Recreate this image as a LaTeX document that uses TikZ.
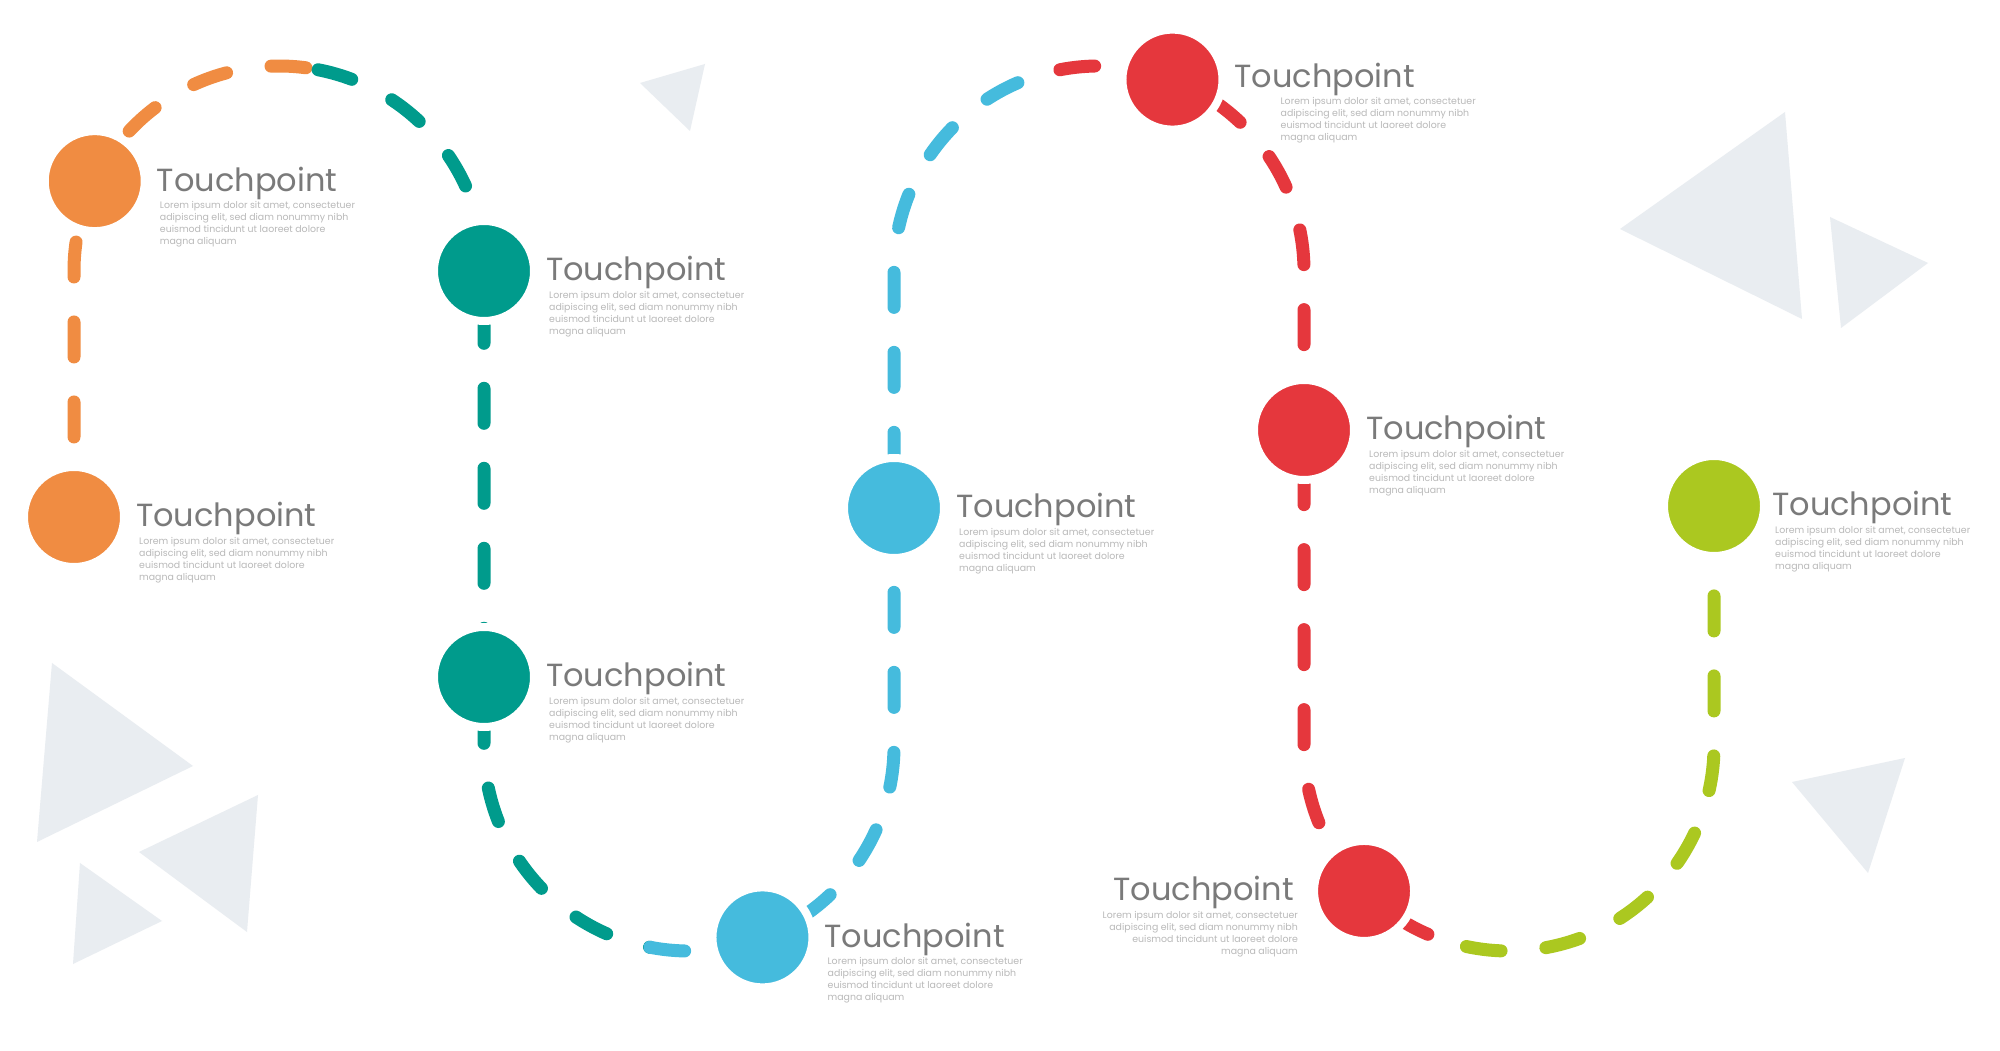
\documentclass[tikz,border=0pt]{standalone}
\usepackage{fontspec}
\setmainfont{Poppins}
\definecolor{tpOrange}{RGB}{240,140,66}
\definecolor{tpTeal}{RGB}{0,155,140}
\definecolor{tpBlue}{RGB}{69,187,221}
\definecolor{tpRed}{RGB}{229,55,61}
\definecolor{tpGreen}{RGB}{171,200,32}
\definecolor{triGray}{RGB}{233,237,241}
\definecolor{titleGray}{RGB}{122,122,122}
\definecolor{loremGray}{RGB}{185,185,185}
\usetikzlibrary{positioning,backgrounds}
\newcommand{\loremtxt}{Lorem ipsum dolor sit amet, consectetuer\\adipiscing elit, sed diam nonummy nibh\\euismod tincidunt ut laoreet dolore\\magna aliquam}

\begin{document}
\begin{tikzpicture}[x=1pt, y=1pt,
    tp/.style={circle, inner sep=0pt, minimum size=100pt, draw=white, line width=8pt},
    trail/.style={line width=13pt, line cap=round, dash pattern=on 35pt off 45pt},
    ttl/.style={inner sep=0pt, text=titleGray, font=\fontsize{32}{38}\selectfont},
    lorem/.style={inner sep=0pt, text=loremGray, align=left, font=\fontsize{9.4}{12}\selectfont},
    tri/.style={fill=triGray}]

\useasboundingbox (0,0) rectangle (2000,1050);

% touchpoints
\node[tp, fill=tpOrange] (c1) at (74,533) {};
\node[tp, fill=tpOrange] (c2) at ([shift={(279,779)}]154:205) {};
\node[tp, fill=tpTeal] (c3) at (484,779) {};
\node[tp, fill=tpTeal] (c4) at (484,373) {};
\node[tp, fill=tpBlue] (c5) at ([shift={(689,304)}]291:205) {};
\node[tp, fill=tpBlue] (c6) at (894,542) {};
\node[tp, fill=tpRed] (c7) at ([shift={(1099,779)}]69:205) {};
\node[tp, fill=tpRed] (c8) at (1304,620) {};
\node[tp, fill=tpRed] (c9) at ([shift={(1509,304)}]225:205) {};
\node[tp, fill=tpGreen] (c10) at (1714,544) {};

% titles
\node[ttl, base right=8pt of c1, yshift=-10pt] (t1) {Touchpoint};
\node[ttl, base right=8pt of c2, yshift=-10pt] (t2) {Touchpoint};
\node[ttl, base right=8pt of c3, yshift=-10pt] (t3) {Touchpoint};
\node[ttl, base right=8pt of c4, yshift=-10pt] (t4) {Touchpoint};
\node[ttl, base right=8pt of c5, yshift=-10pt] (t5) {Touchpoint};
\node[ttl, base right=8pt of c6, yshift=-10pt] (t6) {Touchpoint};
\node[ttl, base right=8pt of c7, yshift=-8pt] (t7) {Touchpoint};
\node[ttl, base right=8pt of c8, yshift=-10pt] (t8) {Touchpoint};
\node[ttl, base left=16pt of c9, yshift=-10pt] (t9) {Touchpoint};
\node[ttl, base right=4pt of c10, yshift=-10pt] (t10) {Touchpoint};

% body text
\node[lorem, anchor=north west] (l1) at ([xshift=3pt,yshift=-10pt]t1.base west) {\loremtxt};
\node[lorem, anchor=north west] (l2) at ([xshift=3pt,yshift=-10pt]t2.base west) {\loremtxt};
\node[lorem, anchor=north west] (l3) at ([xshift=3pt,yshift=-10pt]t3.base west) {\loremtxt};
\node[lorem, anchor=north west] (l4) at ([xshift=3pt,yshift=-10pt]t4.base west) {\loremtxt};
\node[lorem, anchor=north west] (l5) at ([xshift=3pt,yshift=-10pt]t5.base west) {\loremtxt};
\node[lorem, anchor=north west] (l6) at ([xshift=3pt,yshift=-10pt]t6.base west) {\loremtxt};
\node[lorem, anchor=north west] (l7) at ([xshift=46pt,yshift=-10pt]t7.base west) {\loremtxt};
\node[lorem, anchor=north west] (l8) at ([xshift=3pt,yshift=-10pt]t8.base west) {\loremtxt};
\node[lorem, align=right, anchor=north east] (l9) at ([xshift=4pt,yshift=-10pt]t9.base east) {\loremtxt};
\node[lorem, anchor=north west] (l10) at ([xshift=3pt,yshift=-10pt]t10.base west) {\loremtxt};

% corners and colour changes of the trail
\coordinate (k1) at (74,779);
\coordinate (s1) at ([shift={(279,779)}]79:205);
\coordinate (k2) at (484,304);
\coordinate (s2) at ([shift={(689,304)}]259:205);
\coordinate (k3) at (894,779);
\coordinate (s3) at ([shift={(1099,779)}]101:205);
\coordinate (k4) at (1304,304);
\coordinate (s4) at ([shift={(1509,304)}]258:205);

\begin{scope}[on background layer]
  \fill[white] (0,0) rectangle (2000,1050);
  % triangles
  \fill[tri] (640,967) -- (705,986) -- (690,919) -- cycle;
  \fill[tri] (1620,821) -- (1785,938) -- (1802,731) -- cycle;
  \fill[tri] (1830,833) -- (1928,787) -- (1841,722) -- cycle;
  \fill[tri] (1792,268) -- (1905,292) -- (1868,177) -- cycle;
  \fill[tri] (52,387) -- (193,284) -- (37,208) -- cycle;
  \fill[tri] (139,198) -- (258,255) -- (247,118) -- cycle;
  \fill[tri] (80,187) -- (162,129) -- (73,86) -- cycle;
  % trail
  \draw[trail, tpOrange] (c1.center) -- (k1) arc[start angle=180, end angle=79, radius=205];
  \draw[trail, tpTeal] (s1) arc[start angle=79, end angle=0, radius=205] -- (k2)
    arc[start angle=180, end angle=259, radius=205];
  \draw[trail, tpBlue] (s2) arc[start angle=259, end angle=360, radius=205] -- (k3)
    arc[start angle=180, end angle=101, radius=205];
  \draw[trail, tpRed] (s3) arc[start angle=101, end angle=0, radius=205] -- (k4)
    arc[start angle=180, end angle=258, radius=205];
  \draw[trail, tpGreen] (s4) arc[start angle=258, end angle=360, radius=205] -- (c10.center);
\end{scope}
\end{tikzpicture}
\end{document}
